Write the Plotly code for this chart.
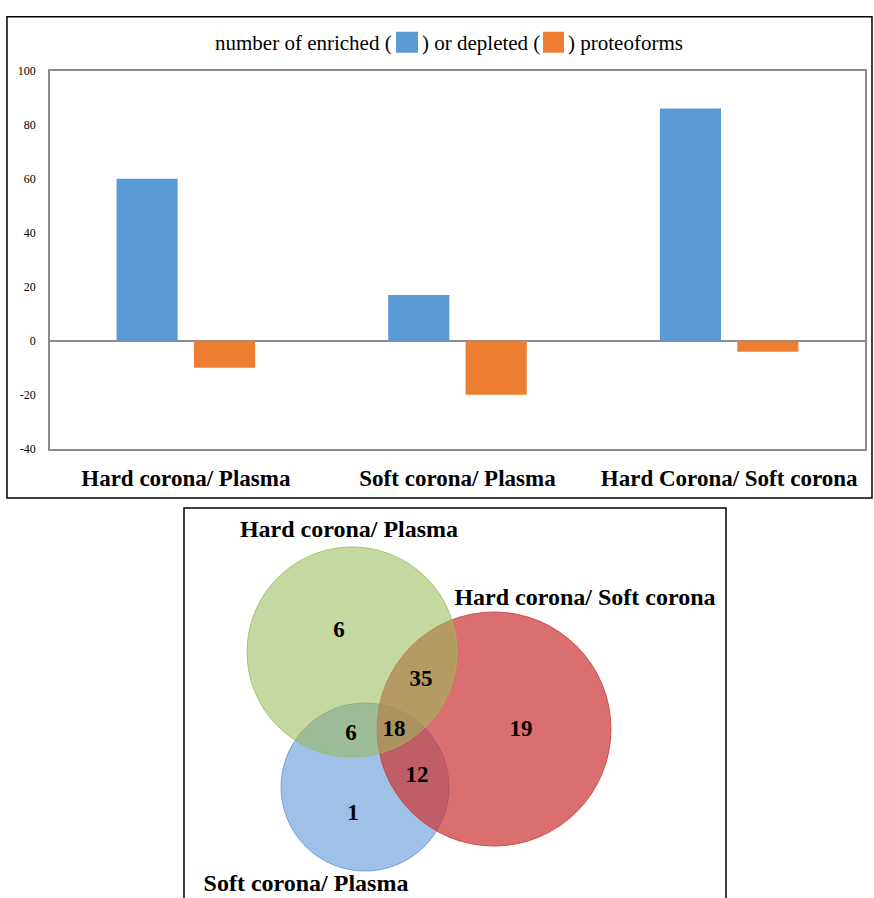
import plotly.graph_objects as go

# ---- bar chart data ----
categories = ["Hard corona/ Plasma", "Soft corona/ Plasma", "Hard Corona/ Soft corona"]
enriched = [60, 17, 86]
depleted = [-10, -20, -4]
y_ticks = [-40, -20, 0, 20, 40, 60, 80, 100]

# ---- venn data ----
set_names = ["Soft corona/ Plasma", "Hard corona/ Soft corona", "Hard corona/ Plasma"]
circle_cx = [365, 494, 352]
circle_cy = [786, 728, 651]
circle_r = [84, 117, 105]
circle_fill = ["rgba(95,150,215,0.6)", "rgba(205,55,55,0.72)", "rgba(155,187,89,0.57)"]
circle_line = ["rgba(95,150,215,0.8)", "rgba(205,55,55,0.8)", "rgba(155,187,89,0.8)"]
label_x = [306, 585, 349]
label_y = [884, 598, 530]
region_counts = ["6", "35", "6", "18", "19", "12", "1"]
region_x = [339, 421, 351, 394, 521, 417, 353]
region_y = [630, 679, 733, 729, 729, 775, 813]

W, H = 874, 898
# empirical vertical correction (screen = VA * design + VB)
VA, VB = 0.984, 6.3
BLUE = "#5B9BD5"
ORANGE = "#ED7D31"
SERIF = "Liberation Serif, Times New Roman, serif"


def py(p):
    return 1 - ((p - VB) / VA) / H


def px(p):
    return p / W


fig = go.Figure()
fig.add_trace(go.Bar(x=categories, y=enriched, width=0.225, offset=-0.255,
                     marker=dict(color=BLUE, line=dict(width=0)), showlegend=False,
                     xaxis="x", yaxis="y"))
fig.add_trace(go.Bar(x=categories, y=depleted, width=0.225, offset=0.03,
                     marker=dict(color=ORANGE, line=dict(width=0)), showlegend=False,
                     xaxis="x", yaxis="y"))

# venn numbers and labels
fig.add_trace(go.Scatter(x=region_x, y=region_y, mode="text",
                         text=["<b>%s</b>" % t for t in region_counts],
                         textfont=dict(family=SERIF, size=23, color="black"),
                         textposition="middle center", showlegend=False,
                         hoverinfo="skip", xaxis="x2", yaxis="y2"))
fig.add_trace(go.Scatter(x=label_x, y=label_y, mode="text",
                         text=["<b>%s</b>" % t for t in set_names],
                         textfont=dict(family=SERIF, size=24, color="black"),
                         textposition="middle center", showlegend=False,
                         hoverinfo="skip", xaxis="x2", yaxis="y2"))

shapes = []
for cx, cy, r, fc, lc in zip(circle_cx, circle_cy, circle_r, circle_fill, circle_line):
    shapes.append(dict(type="circle", xref="x2", yref="y2",
                       x0=cx - r, x1=cx + r, y0=cy - r, y1=cy + r,
                       fillcolor=fc, line=dict(color=lc, width=1), layer="below"))

# outer frame of bar chart
shapes.append(dict(type="rect", xref="paper", yref="paper",
                   x0=px(7), x1=px(872), y0=py(497), y1=py(16),
                   line=dict(color="black", width=1.5), fillcolor="rgba(0,0,0,0)"))
# venn frame (open at bottom)
shapes.append(dict(type="path", xref="paper", yref="paper",
                   path="M %f,%f L %f,%f L %f,%f L %f,%f" % (
                       px(184), -0.05, px(184), py(507), px(726), py(507), px(726), -0.05),
                   line=dict(color="black", width=1.5)))
# title colour squares
shapes.append(dict(type="rect", xref="paper", yref="paper",
                   x0=px(396), x1=px(418), y0=py(52), y1=py(31),
                   fillcolor=BLUE, line=dict(width=0)))
shapes.append(dict(type="rect", xref="paper", yref="paper",
                   x0=px(543), x1=px(564), y0=py(52), y1=py(31),
                   fillcolor=ORANGE, line=dict(width=0)))

tfont = dict(family=SERIF, size=21, color="black")
annotations = [
    dict(text="number of enriched (", xref="paper", yref="paper", x=px(394), y=py(42),
         xanchor="right", yanchor="middle", showarrow=False, font=tfont),
    dict(text=") or depleted (", xref="paper", yref="paper", x=px(481), y=py(42),
         xanchor="center", yanchor="middle", showarrow=False, font=tfont),
    dict(text=") proteoforms", xref="paper", yref="paper", x=px(566), y=py(42),
         xanchor="left", yanchor="middle", showarrow=False, font=tfont),
]

# figure bottom (design 898) in corrected screen units
venn_bottom = VA * 898 + VB

fig.update_layout(
    width=W, height=H, autosize=False,
    margin=dict(l=0, r=0, t=0, b=0),
    paper_bgcolor="white", plot_bgcolor="rgba(0,0,0,0)",
    barmode="overlay",
    shapes=shapes, annotations=annotations,
    xaxis=dict(domain=[px(50), px(865)], anchor="y", type="category",
               range=[-0.5, 2.5], showgrid=False, ticks="",
               showline=True, mirror=True, linecolor="#8c8c8c", linewidth=1.5,
               tickfont=dict(family=SERIF, size=23, color="black", weight="bold"),
               ticklabelstandoff=8, fixedrange=True),
    yaxis=dict(domain=[py(448), py(70)], anchor="x", range=[-40, 100],
               tickvals=y_ticks, ticktext=[str(v) for v in y_ticks],
               showgrid=False, ticks="",
               zeroline=True, zerolinecolor="#8c8c8c", zerolinewidth=1.5,
               showline=True, mirror=True, linecolor="#8c8c8c", linewidth=1.5,
               tickfont=dict(family=SERIF, size=12, color="black"),
               ticklabelstandoff=10, fixedrange=True),
    xaxis2=dict(domain=[px(184), px(726)], anchor="y2", range=[184, 726],
                visible=False, fixedrange=True),
    yaxis2=dict(domain=[0, py(507)], anchor="x2", range=[venn_bottom, 507],
                visible=False, fixedrange=True),
)

fig.write_html("out.html", config={"displayModeBar": False},
               post_script="document.body.style.margin='0';document.body.style.overflow='hidden';")
